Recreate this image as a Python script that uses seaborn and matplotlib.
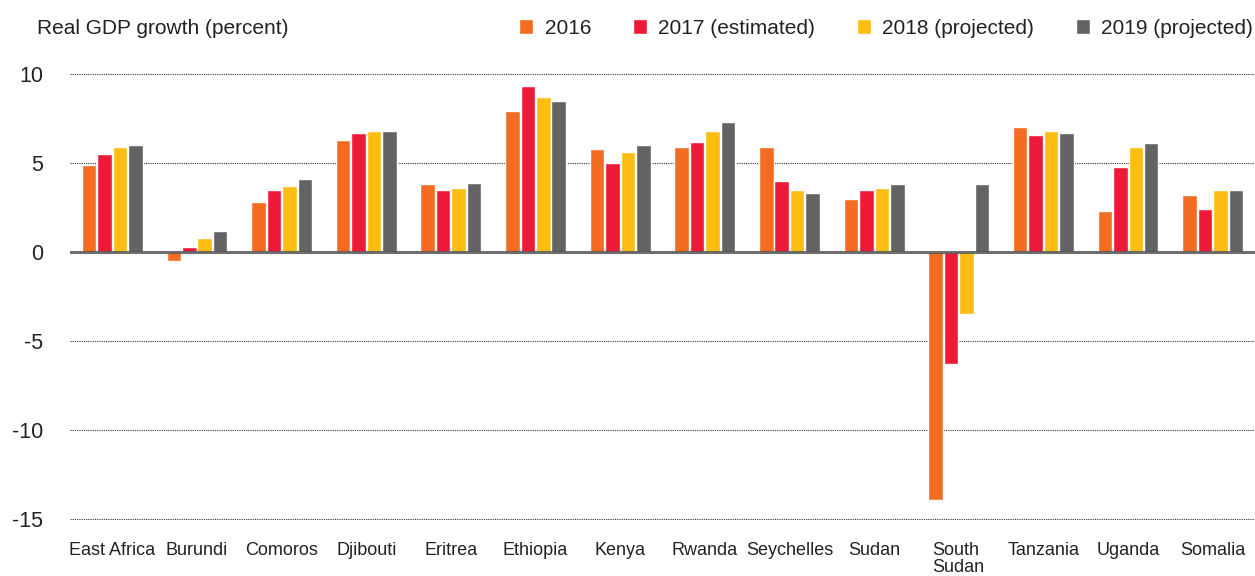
import matplotlib
matplotlib.use("Agg")
from matplotlib import pyplot as plt
import seaborn as sns
import pandas as pd

# data
countries = ["East Africa", "Burundi", "Comoros", "Djibouti", "Eritrea", "Ethiopia",
             "Kenya", "Rwanda", "Seychelles", "Sudan", "South\nSudan", "Tanzania",
             "Uganda", "Somalia"]
series = ["2016", "2017 (estimated)", "2018 (projected)", "2019 (projected)"]
g2016 = [4.9, -0.5, 2.8, 6.3, 3.8, 7.9, 5.8, 5.9, 5.9, 3.0, -13.9, 7.0, 2.3, 3.2]
g2017 = [5.5, 0.3, 3.5, 6.7, 3.5, 9.3, 5.0, 6.2, 4.0, 3.5, -6.3, 6.6, 4.8, 2.4]
g2018 = [5.9, 0.8, 3.7, 6.8, 3.6, 8.7, 5.6, 6.8, 3.5, 3.6, -3.5, 6.8, 5.9, 3.5]
g2019 = [6.0, 1.2, 4.1, 6.8, 3.9, 8.5, 6.0, 7.3, 3.3, 3.8, 3.8, 6.7, 6.1, 3.5]
yticks = [10, 5, 0, -5, -10, -15]

colors = ["#F36C21", "#ED1A37", "#FDBD13", "#636363"]

rows = []
for s, vals in zip(series, [g2016, g2017, g2018, g2019]):
    for c, v in zip(countries, vals):
        rows.append({"country": c, "series": s, "value": v})
df = pd.DataFrame(rows)

sns.set_style("white")
plt.rcParams["font.family"] = ["Liberation Sans", "DejaVu Sans"]
plt.rcParams["axes.unicode_minus"] = False

fig = plt.figure(figsize=(12.55, 5.76), dpi=100)
ax = fig.add_axes([0.0558, 0.0972, 0.9442, 0.7759])

sns.barplot(data=df, x="country", y="value", hue="series", order=countries,
            hue_order=series, palette=colors, width=0.73, gap=0.06,
            saturation=1, ax=ax, zorder=2)

# dotted gridlines and solid zero line
for t in yticks:
    if t != 0:
        ax.axhline(t, color="#333333", lw=0.8, ls=(0, (1, 1)), zorder=1)
ax.axhline(0, color="#555555", lw=2.2, alpha=0.85, zorder=3)

ax.set_xlim(-0.5, len(countries) - 0.5)
ax.set_ylim(-15.05, 10.05)
ax.set_yticks(yticks)
ax.set_yticklabels([str(t) for t in yticks], fontsize=15.5, color="#222222")
ax.set_xlabel("")
ax.set_ylabel("")
ax.tick_params(axis="y", length=0, pad=19.5)
ax.tick_params(axis="x", length=0, pad=16, labelsize=13, labelcolor="#222222")
for lab in ax.get_xticklabels():
    lab.set_verticalalignment("top")
    lab.set_linespacing(1.02)
    lab.set_multialignment("left")
sns.despine(ax=ax, left=True, bottom=True, top=True, right=True)

handles, labels = ax.get_legend_handles_labels()
ax.get_legend().remove()
fig.legend(handles, labels, loc="center right", bbox_to_anchor=(1.0, 0.951),
           ncol=4, frameon=False, fontsize=15, handlelength=0.67, handleheight=0.67,
           handletextpad=0.55, columnspacing=2.0, borderaxespad=0, borderpad=0.1,
           labelcolor="#222222")

fig.text(0.0295, 0.951, "Real GDP growth (percent)", fontsize=15, color="#222222",
         va="center", ha="left")

fig.savefig("out.png", dpi=100)
